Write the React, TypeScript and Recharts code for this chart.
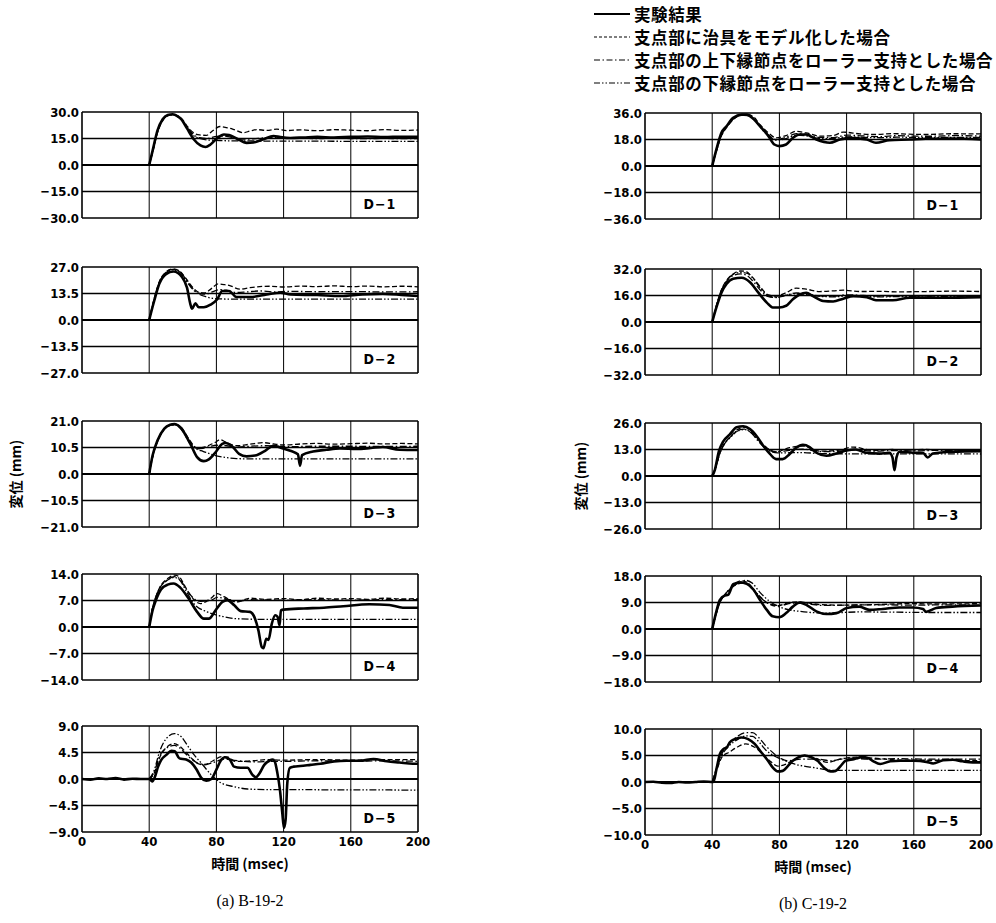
import React from 'react';
import { LineChart, Line, XAxis, YAxis, ReferenceLine } from 'recharts';

type Pt = [number, number];

// ---- time axis / tick values ----
const timeTicks = [0, 40, 80, 120, 160, 200];
const bMax = [30, 27, 21, 14, 9];   // (a) B-19-2, D-1..D-5
const cMax = [36, 32, 26, 18, 10];  // (b) C-19-2, D-1..D-5
const panelLabels = ['D−1', 'D−2', 'D−3', 'D−4', 'D−5'];

const seriesNames = [
  '実験結果',
  '支点部に治具をモデル化した場合',
  '支点部の上下縁節点をローラー支持とした場合',
  '支点部の下縁節点をローラー支持とした場合',
];

// ---- (a) B-19-2 ----
const b1Exp: Pt[] = [[40,0],[42,8],[45,19.7],[48,25.9],[51,28.3],[54,28.7],[57,27.5],[59,26],[62.5,20.7],[66.5,14.6],[70.5,11.1],[73.5,10.2],[76.5,11.6],[80.5,15.2],[84.5,17.3],[87.5,17],[92,15],[98,12.5],[102,12.7],[108,14.6],[114,16.4],[118,15.8],[124,15.3],[132,15.6],[140,15.9],[150,15.6],[160,15.9],[170,16.1],[180,15.8],[190,16],[200,15.9]];
const b1Jig: Pt[] = [[40,0],[42,7],[45,18.5],[48,25],[51,28],[54,28.6],[57,27.8],[60,25.5],[63,21.5],[66,18.5],[70,17],[74,16.8],[78,19.5],[82,21.8],[86,21.2],[90,20.2],[96,18.3],[100,19.2],[104,20],[110,19.6],[116,20.3],[122,19.5],[130,19.9],[140,19.4],[150,20],[160,19.7],[170,19.4],[180,20],[190,19.6],[200,19.8]];
const b1Both: Pt[] = [[40,0],[42,7.5],[45,19],[48,25.5],[51,28],[54,28.5],[57,27.5],[60,25],[63,21],[66,17.5],[70,15.5],[74,15],[78,15.8],[82,16.4],[86,16.2],[90,15.4],[96,14.6],[102,14.8],[108,15.3],[114,15.5],[120,15.1],[130,15.2],[140,14.9],[150,15.2],[160,15],[170,14.9],[180,15.1],[190,14.9],[200,15]];
const b1Lower: Pt[] = [[40,0],[42,7.5],[45,19],[48,25.5],[51,28],[54,28.4],[57,27.3],[60,24.8],[63,20.5],[66,17],[70,15],[74,14.2],[78,14],[84,13.8],[90,13.6],[100,13.6],[120,13.5],[140,13.5],[160,13.4],[180,13.4],[200,13.4]];

const b2Exp: Pt[] = [[40,0],[43,9.8],[46,18.4],[50,23.4],[54.5,24.7],[59.5,21.9],[62.5,16.5],[64.5,8.1],[65.5,5.7],[67.5,8.5],[69.5,6.5],[72.5,6.5],[76.5,7.8],[80.5,10.6],[83.5,14.8],[87.5,14.8],[92,11.7],[100,11.7],[110,13],[118,13.9],[124,13],[140,12.7],[154,12.2],[167,13],[179,13.3],[190,12.8],[200,12.2]];
const b2Jig: Pt[] = [[40,0],[43,11],[46,19.5],[50,24.5],[54,26],[58,25],[62,21],[66,16.5],[70,14],[73,13.8],[77,16],[81,18.4],[85,18],[88,17.5],[94,15.7],[100,16.5],[104,16.9],[112,17.2],[120,16.8],[130,17.3],[140,17],[150,17.4],[160,17],[170,17.3],[180,16.9],[190,17.2],[200,16.9]];
const b2Both: Pt[] = [[40,0],[43,10.5],[46,19],[50,24.2],[54,25.8],[58,24.8],[62,20.5],[66,16],[70,13.5],[74,13.2],[78,14.5],[82,15.5],[86,15.2],[92,14],[98,14.3],[106,14.8],[114,14.3],[124,14.6],[140,14.4],[160,14.5],[180,14.3],[200,14.4]];
const b2Lower: Pt[] = [[40,0],[43,10.5],[46,19],[50,24],[54,25.6],[58,24.5],[62,20],[66,15.5],[70,13],[74,11.8],[78,11],[84,10.7],[95,10.6],[120,10.6],[160,10.6],[200,10.6]];

const b3Exp: Pt[] = [[40,0],[42,7.3],[45,13.4],[49,18],[52.5,19.5],[55,19.8],[58.5,18.5],[64.5,11.9],[68.5,6.7],[72.5,5.1],[75.5,5.8],[79.5,8.6],[83.5,11.9],[85.5,12.3],[89.5,10.9],[93.5,8],[98,7],[103,7.3],[109,9.2],[114,11.2],[118,10.5],[124,9.2],[128.5,7.8],[129.8,3.3],[131,7.5],[137.5,8.9],[145.5,9.6],[153.5,10.1],[163.5,9.9],[172,10.3],[179,10.7],[189,9.6],[200,9.5]];
const b3Jig: Pt[] = [[40,0],[42,6.5],[45,13],[49,17.8],[52.5,19.5],[55.5,19.8],[59,18.5],[64,13.5],[68.5,10.2],[72,10.5],[76,11.5],[80,12.8],[82,13.6],[86,12.5],[92,11.2],[100,11.8],[108,12.4],[114,11.9],[120,11.5],[130,11.9],[140,12.1],[150,11.8],[160,12],[170,12.2],[180,11.9],[190,12.1],[200,11.9]];
const b3Both: Pt[] = [[40,0],[42,6.8],[45,13.2],[49,17.9],[52.5,19.4],[55.5,19.6],[59,18.2],[64,13],[68.5,10],[72,10.2],[76,10.9],[80,11.4],[86,11.2],[92,10.6],[100,11],[110,11.2],[120,10.8],[140,11],[160,11],[180,10.9],[200,11]];
const b3Lower: Pt[] = [[40,0],[42,6.8],[45,13.2],[49,17.8],[52.5,19.3],[55.5,19.4],[59,17.8],[64,12.5],[68.5,9.8],[72,9],[76,8],[80,7.2],[86,6.5],[92,6.1],[100,6],[120,6],[150,6],[200,6]];

const b4Exp: Pt[] = [[40,0],[42,4.4],[44,7.1],[47,9.9],[51,11.2],[54.5,11.5],[58.5,10.4],[63.5,7.5],[68.5,4],[72.5,2.2],[75.5,2.2],[79.5,4.4],[83.5,6.6],[86.5,7.1],[90.5,5.8],[94.5,4.2],[100,4],[103,2.2],[105,-0.9],[107,-5.3],[108,-5.6],[109.7,-3.1],[111,-3.4],[113,0.9],[115,3.1],[116.4,2.7],[117.6,0.4],[118.4,4.4],[120,4.6],[132,4.9],[144,5.1],[155.5,5.5],[171,6],[183,5.8],[191,5.1],[200,5.1]];
const b4Jig: Pt[] = [[40,0],[42,5],[44,8],[47,11],[51,12.8],[55,13.7],[58,13.2],[61,11],[64.5,8.4],[70.5,6.2],[76.5,7.5],[80.5,8.8],[84.5,8],[92,6.6],[100,7.6],[110,7.3],[120,7.5],[130,7.2],[140,7.6],[150,7.4],[160,7.5],[170,7.3],[180,7.6],[190,7.4],[200,7.5]];
const b4Both: Pt[] = [[40,0],[42,5],[44,8],[47,10.8],[51,12.5],[55,13.3],[58,12.8],[61,10.8],[64.5,8.5],[70.5,6.8],[76.5,7],[80.5,7.8],[84.5,7.6],[92,6.8],[100,7.2],[120,7.1],[140,7.2],[160,7.1],[180,7.2],[200,7.2]];
const b4Lower: Pt[] = [[40,0],[42,5],[44,8],[47,10.8],[51,12.4],[55,13.1],[58,12.5],[62,9.5],[66.5,6.2],[74.5,4],[84.5,2.7],[92,2.2],[110,2],[140,2],[170,2],[200,2]];

const b5Exp: Pt[] = [[0,0],[5,-0.1],[10,0.1],[15,0],[20,0.15],[25,-0.1],[30,0.05],[35,0],[40,0],[41.8,-0.4],[43.3,0.3],[45.3,2.1],[47.3,3.3],[50.2,4.1],[53.2,4.8],[55.2,4.7],[58,3.5],[62,3.3],[65,2.8],[68,1.7],[71,0.2],[74,-0.3],[77,0],[80,1.6],[83,3.3],[85,3.7],[88,3.3],[90.5,2.1],[94.5,1.9],[98.5,1.9],[101.5,0.7],[103.5,0.3],[105.5,0.9],[108.5,2.4],[111.5,3.1],[113.5,3.3],[114.7,3],[116.3,1],[117.8,-1.8],[119.2,-5.7],[120.2,-8.3],[121.2,-6.9],[122.2,-0.7],[123.7,1.9],[126,2.1],[130,2.2],[136,2.4],[142,2.6],[150,3],[157.5,3.1],[165.5,3.1],[173.5,3.4],[181.5,3],[189,2.8],[197,2.6],[200,2.6]];
const b5Jig: Pt[] = [[40,0],[43,1],[46,3.5],[50,5.3],[55,6],[58,5.6],[62,4.5],[66,3.3],[69,2.6],[73,2.4],[78,3.1],[83,3.8],[87,3.7],[91,3],[95,3],[102,3.1],[110,3.3],[120,3.2],[140,3.3],[160,3.2],[180,3.3],[200,3.3]];
const b5Both: Pt[] = [[40,0],[43,1.2],[46,3.8],[50,5.2],[55,5.7],[58,5.3],[62,4.2],[66,3.2],[70,2.6],[74,2.5],[80,3],[85,3.4],[90,3.2],[96,3],[104,2.9],[112,3],[120,3],[140,3.1],[160,3],[180,3.1],[200,3]];
const b5Lower: Pt[] = [[40,0],[43,1.5],[46,4.5],[50,6.8],[55,7.7],[59,7.2],[63,5.6],[67,4],[71,2.7],[77,0.7],[83,-0.7],[90.5,-1.3],[98.5,-1.7],[110,-1.8],[130,-1.8],[150,-1.85],[170,-1.85],[200,-1.9]];

// ---- (b) C-19-2 ----
const c1Exp: Pt[] = [[40,0],[42.5,11.3],[45.5,22.5],[48.5,27],[52.5,32.7],[57.5,34.9],[60.5,34.9],[64.5,32],[68.5,27],[73.5,20.3],[77,14.6],[80,13.5],[84,14.6],[88,19.1],[92,21.4],[96,21.4],[102,18],[110,15.8],[116,18],[122,19.1],[132,18],[137.5,15.8],[145.5,17.6],[157.5,18],[167,18.5],[183,18.7],[200,18]];
const c1Jig: Pt[] = [[40,0],[42.5,10],[45.5,20.5],[48.5,26],[52.5,31.5],[57,34.5],[61,35],[65,33],[68.5,28],[74,22],[78,19.1],[84,20.7],[90,23.6],[96,22.5],[104,20.3],[112,20.7],[118,23],[128,21.8],[137.5,21.4],[147.5,22],[157,21.6],[167,21.4],[183,21.9],[200,21.8]];
const c1Both: Pt[] = [[40,0],[42.5,10.5],[45.5,21],[48.5,26.5],[52.5,32],[57,34.6],[61,34.5],[65,32],[68.5,27],[74,20.5],[78,18],[84,19.5],[90,22],[96,21.5],[104,19.5],[112,19.3],[120,21],[130,20.4],[140,20],[150,20.6],[160,20.3],[170,20.2],[185,20.6],[200,20.3]];
const c1Lower: Pt[] = [[40,0],[42.5,10.5],[45.5,21],[48.5,26.5],[52.5,32],[57,34.4],[61,34.2],[65,31.5],[68.5,26.5],[74,20],[78,17.6],[84,18.6],[90,21],[96,20.5],[104,18.6],[112,18.8],[120,19.8],[130,19.5],[140,19.2],[150,19.6],[160,19.4],[170,19.3],[185,19.5],[200,19.4]];

const c2Exp: Pt[] = [[40,0],[42.5,8.8],[45.5,17.7],[48.5,22.9],[52.5,26.1],[57.5,26.7],[62.5,24],[67.5,17.7],[72.5,11.7],[76,8.8],[80,8.8],[84,9.8],[88,13.7],[92,16.6],[96,17.7],[100,15.6],[106,12.7],[112,12.4],[118,14.1],[124,15.6],[132,15],[137.5,13.1],[147.5,13.1],[157.5,14.6],[177,14.6],[200,15]];
const c2Jig: Pt[] = [[40,0],[42.5,10],[45.5,19.5],[48.5,25],[52.5,29],[57,30.8],[60,30.5],[64,27],[68,22],[73,16.6],[78,15.6],[84,17.7],[90,20.4],[96,19.8],[104,18.4],[112,18.8],[118,19.2],[128,18.4],[140,18.5],[150,18.2],[167,18.4],[185,18.6],[200,18.4]];
const c2Both: Pt[] = [[40,0],[42.5,9.5],[45.5,19],[48.5,24.5],[52.5,28],[57,29],[60,28.5],[64,25],[68,20],[73,15.5],[78,14.8],[84,16.2],[90,17.5],[96,17],[104,15.8],[112,15.5],[120,16.4],[130,16],[140,15.6],[150,15.8],[165,15.6],[180,15.8],[200,15.7]];
const c2Lower: Pt[] = [[40,0],[42.5,9.5],[45.5,19],[48.5,24.8],[52.5,28.8],[57,30],[61,29.3],[65,25.5],[69,20],[74,15.5],[79,15],[85,16.4],[91,17.2],[97,16.6],[105,15.4],[113,15.2],[121,15.8],[131,15.3],[141,15.2],[155,15.4],[170,15.2],[185,15.4],[200,15.3]];

const c3Exp: Pt[] = [[40,0],[41.5,2.8],[44,12.2],[46.5,16.9],[50.5,20.4],[54.5,23.9],[58.5,24.4],[62.5,23],[66.5,19.5],[70.5,14.7],[74.5,10.7],[78,8.3],[82,8.3],[86,10.7],[90,13.9],[94,15.3],[98,14.2],[102,11.4],[108,9.9],[114,11],[120,12.5],[125.5,13],[131.5,11.4],[139.5,11],[145.5,11.4],[147.3,9.1],[148.5,2.8],[149.7,9.1],[151.5,11.9],[159.5,11.4],[165.5,11.3],[168.3,9.1],[171.3,11],[183,11.9],[200,12.2]];
const c3Jig: Pt[] = [[40,0],[42,4],[44.5,11],[47,15.5],[51,19.5],[55.5,23],[60,24],[64,22],[68,17.5],[72.5,13.9],[78,11.9],[86,13.9],[94,14.7],[104,12.2],[114,12.5],[124,14.2],[136,12.5],[147.5,13],[157,12.8],[167,13],[183,12.7],[200,12.5]];
const c3Both: Pt[] = [[40,0],[42,4],[44.5,11],[47,15.5],[51,19.3],[55.5,22.5],[59,23],[63,21.5],[67,17.5],[72,13.5],[78,11.8],[86,12.6],[94,13.2],[104,12],[114,12],[124,13],[136,12.2],[148,12.5],[160,12.3],[175,12.6],[200,12.4]];
const c3Lower: Pt[] = [[40,0],[42,4],[44.5,11],[47,15.3],[51,19],[55.5,22.2],[59.5,22.8],[63.5,21],[68,17],[73,13],[79,11.3],[86,11.4],[94,11.5],[104,11],[120,10.9],[150,10.9],[200,10.8]];

const c4Exp: Pt[] = [[40,0],[42.5,6],[44.5,9.8],[47.5,11.4],[49.5,11.6],[52.5,15.2],[56.5,15.8],[60.5,15.4],[64.5,13.4],[68.5,9.8],[72.5,6.5],[76,4.3],[80,4],[84,5.4],[88,7.6],[92,9],[96,8.2],[102,6],[108,5.1],[114,5.4],[120,7.1],[127.5,7.6],[133.5,6.5],[141.5,6.8],[151.5,7.3],[159.5,7.3],[165.5,6.8],[167.3,5.8],[173.3,7.1],[183,7.6],[200,8]];
const c4Jig: Pt[] = [[40,0],[42.5,5.5],[45,9.5],[48,12],[52,14.5],[57,16.4],[61,15.8],[65,13],[68.5,11],[72,9.2],[78,7.8],[86,9],[92,9.2],[104,8.3],[118,8.1],[138,8.3],[157,8.6],[175,8.5],[200,8.6]];
const c4Both: Pt[] = [[40,0],[42.5,5.5],[45,9.5],[48,12],[52,14.2],[58,15.6],[62,15],[66,12.5],[70,10],[74,8.6],[80,8],[88,8.8],[96,8.6],[106,8],[120,8.1],[140,8.2],[160,8.1],[180,8.2],[200,8.1]];
const c4Lower: Pt[] = [[40,0],[42.5,5.5],[45,9.5],[48,12],[52,14.2],[56,15.8],[60,16.5],[64,15.5],[68,12.7],[74,9.5],[80,7.5],[86,6.5],[92,6],[108,5.4],[128,5.8],[150,5.7],[175,5.6],[200,5.6]];

const c5Exp: Pt[] = [[0,0],[5,0.05],[10,-0.15],[15,-0.2],[20,0],[25,-0.1],[30,0],[35,0.1],[40.7,0],[42.7,2.7],[44.6,5.3],[46.6,6.2],[48.6,6.5],[50.5,7.5],[53.5,8.1],[57.4,8.4],[61.4,8.1],[65.3,7.2],[69.2,5.6],[73.2,4],[76.1,2.7],[79.1,2],[82,2.1],[85,3],[88,4],[91,4.6],[95,5],[98.7,4.7],[102.7,4],[106.6,2.7],[110.5,2],[113.5,2.1],[116.4,3],[119.4,4],[124.3,4.3],[129.2,4.7],[133,4.5],[136,3.9],[140,3.4],[146,3.9],[152,4],[160,4],[167.5,3.8],[171.5,3.5],[177.5,4.1],[183.3,4.2],[189,3.9],[195,3.7],[200,3.7]];
const c5Jig: Pt[] = [[40,0],[43,2.5],[46,4.8],[50,5.6],[55,6.6],[60,7.2],[65,6.6],[70,5.3],[75,3.8],[79,3],[84,3.4],[89,4.3],[95,5],[100.7,4.6],[108.6,3.7],[116.4,4.3],[126,4.7],[136,4.5],[155.7,4.1],[175,4.1],[200,4]];
const c5Both: Pt[] = [[40,0],[43,3],[46,5.5],[50,7.2],[55,8.6],[60,9.3],[64,9.3],[68,8.3],[72,6.8],[77,5.3],[81,4.4],[85,4],[92.8,4.3],[102.7,4.3],[110.5,4],[120.4,4.5],[135,4.3],[150,4.4],[170,4.3],[200,4.3]];
const c5Lower: Pt[] = [[40,0],[43,2.8],[46,5.2],[50,6.8],[55,8],[60,8.7],[64,8.6],[68,7.5],[72,6],[77,4.9],[81,4.3],[88.9,3.4],[100.7,2.7],[112.5,2.2],[130,2.2],[160,2.2],[200,2.2]];

const bSeries = [
  [b1Exp, b1Jig, b1Both, b1Lower],
  [b2Exp, b2Jig, b2Both, b2Lower],
  [b3Exp, b3Jig, b3Both, b3Lower],
  [b4Exp, b4Jig, b4Both, b4Lower],
  [b5Exp, b5Jig, b5Both, b5Lower],
];
const cSeries = [
  [c1Exp, c1Jig, c1Both, c1Lower],
  [c2Exp, c2Jig, c2Both, c2Lower],
  [c3Exp, c3Jig, c3Both, c3Lower],
  [c4Exp, c4Jig, c4Both, c4Lower],
  [c5Exp, c5Jig, c5Both, c5Lower],
];

// line styles: experiment, jig, upper+lower roller, lower roller
const lineStyles = [
  { w: 2.6, dash: undefined as string | undefined },
  { w: 1.3, dash: '5 2.5' },
  { w: 1.3, dash: '7 2.5 1.5 2.5' },
  { w: 1.3, dash: '7 2 1.5 2 1.5 2' },
];

const PW = 336;
const PH = 106;
const leftX = 82;
const rightX = 645;
const leftTops = [112, 267, 421, 574, 726];
const rightTops = [113, 269, 423, 576, 729];

const condensed = '"DejaVu Sans Condensed", "DejaVu Sans", sans-serif';
const jp = '"Noto Sans CJK JP", "Noto Sans", sans-serif';
const tickStyle = { fill: '#000', fontSize: 13, fontWeight: 700, fontFamily: condensed };

const fmt = (v: number) => (v < 0 ? '−' : '') + Math.abs(v).toFixed(1);
const toRows = (pts: Pt[]) => pts.map(([t, v]) => ({ t, v }));

function Panel({ x, y, max, label, series, last }: {
  x: number; y: number; max: number; label: string; series: Pt[][]; last: boolean;
}) {
  const padL = 62, padT = 8, padR = 16;
  const padB = last ? 26 : 8;
  const half = max / 2;
  const order = [1, 2, 3, 0];
  return (
    <div style={{ position: 'absolute', left: x - padL, top: y - padT }}>
      <LineChart
        width={padL + PW + padR}
        height={padT + PH + padB}
        margin={{ top: padT, right: padR, bottom: last ? 0 : padB, left: 0 }}
      >
        <XAxis
          dataKey="t"
          type="number"
          domain={[0, 200]}
          ticks={timeTicks}
          interval={0}
          hide={!last}
          height={26}
          axisLine={false}
          tickLine={false}
          tickSize={0}
          tickMargin={5}
          tick={tickStyle}
          allowDataOverflow
        />
        <YAxis
          type="number"
          domain={[-max, max]}
          ticks={[-max, -half, 0, half, max]}
          interval={0}
          width={padL}
          axisLine={false}
          tickLine={false}
          tickSize={0}
          tickMargin={3}
          tickFormatter={fmt}
          tick={tickStyle}
          allowDataOverflow
        />
        {timeTicks.slice(1, -1).map((t) => (
          <ReferenceLine key={'v' + t} x={t} stroke="#000" strokeWidth={1} />
        ))}
        {[-half, 0, half].map((v) => (
          <ReferenceLine key={'h' + v} y={v} stroke="#000" strokeWidth={v === 0 ? 1.8 : 1.5} />
        ))}
        <ReferenceLine y={max} stroke="#000" strokeWidth={1.6} />
        <ReferenceLine y={-max} stroke="#000" strokeWidth={1.6} />
        <ReferenceLine x={0} stroke="#000" strokeWidth={1.6} />
        <ReferenceLine x={200} stroke="#000" strokeWidth={1.6} />
        {order.map((i) => (
          <Line
            key={i}
            data={toRows(series[i])}
            dataKey="v"
            type="monotone"
            stroke="#000"
            strokeWidth={lineStyles[i].w}
            strokeDasharray={lineStyles[i].dash}
            dot={false}
            activeDot={false}
            isAnimationActive={false}
          />
        ))}
      </LineChart>
      <div
        style={{
          position: 'absolute',
          left: padL + 298 - 30,
          top: padT + PH - 22,
          width: 60,
          textAlign: 'center',
          fontFamily: condensed,
          fontWeight: 700,
          fontSize: 14,
          letterSpacing: 1,
          color: '#000',
        }}
      >
        {label}
      </div>
    </div>
  );
}

function LegendRow({ y, idx }: { y: number; idx: number }) {
  const s = lineStyles[idx];
  return (
    <div style={{ position: 'absolute', left: 594, top: y - 11, height: 22, display: 'flex', alignItems: 'center' }}>
      <svg width={36} height={10} style={{ marginRight: 4 }}>
        <line x1={0} y1={5} x2={36} y2={5} stroke="#000" strokeWidth={idx === 0 ? 1.8 : 1.2} strokeDasharray={s.dash ? (idx === 1 ? '3 2' : s.dash.replace(/7/g, '6')) : undefined} />
      </svg>
      <span style={{ fontFamily: jp, fontWeight: 700, fontSize: 16.5, letterSpacing: 0.6, color: '#000', whiteSpace: 'nowrap' }}>
        {seriesNames[idx]}
      </span>
    </div>
  );
}

function Column({ x, tops, maxes, series, caption, yLabelX }: {
  x: number; tops: number[]; maxes: number[]; series: Pt[][][]; caption: string; yLabelX: number;
}) {
  const cx = x + PW / 2;
  const bottom = tops[4] + PH;
  return (
    <>
      {tops.map((top, i) => (
        <Panel key={i} x={x} y={top} max={maxes[i]} label={panelLabels[i]} series={series[i]} last={i === 4} />
      ))}
      <div
        style={{
          position: 'absolute',
          left: yLabelX - 50,
          top: (tops[2] + PH / 2) - 10,
          width: 100,
          height: 20,
          textAlign: 'center',
          transform: 'rotate(-90deg)',
          fontFamily: jp,
          fontWeight: 700,
          fontSize: 14,
          lineHeight: '20px',
          color: '#000',
          whiteSpace: 'nowrap',
        }}
      >
        変位 (mm)
      </div>
      <div
        style={{
          position: 'absolute',
          left: cx - 80,
          top: bottom + 21,
          width: 160,
          textAlign: 'center',
          fontFamily: jp,
          fontWeight: 700,
          fontSize: 14,
          lineHeight: '20px',
          color: '#000',
        }}
      >
        時間 (msec)
      </div>
      <div
        style={{
          position: 'absolute',
          left: cx - 80,
          top: bottom + 58,
          width: 160,
          textAlign: 'center',
          fontFamily: '"Liberation Serif", "DejaVu Serif", serif',
          fontSize: 16,
          lineHeight: '22px',
          color: '#000',
        }}
      >
        {caption}
      </div>
    </>
  );
}

export default function App() {
  return (
    <div style={{ position: 'absolute', left: 0, top: 0, width: 996, height: 923, background: '#fff', overflow: 'hidden' }}>
      {[14, 37, 60, 83].map((y, i) => (
        <LegendRow key={i} y={y} idx={i} />
      ))}
      <Column x={leftX} tops={leftTops} maxes={bMax} series={bSeries} caption="(a) B-19-2" yLabelX={15} />
      <Column x={rightX} tops={rightTops} maxes={cMax} series={cSeries} caption="(b) C-19-2" yLabelX={580} />
    </div>
  );
}
